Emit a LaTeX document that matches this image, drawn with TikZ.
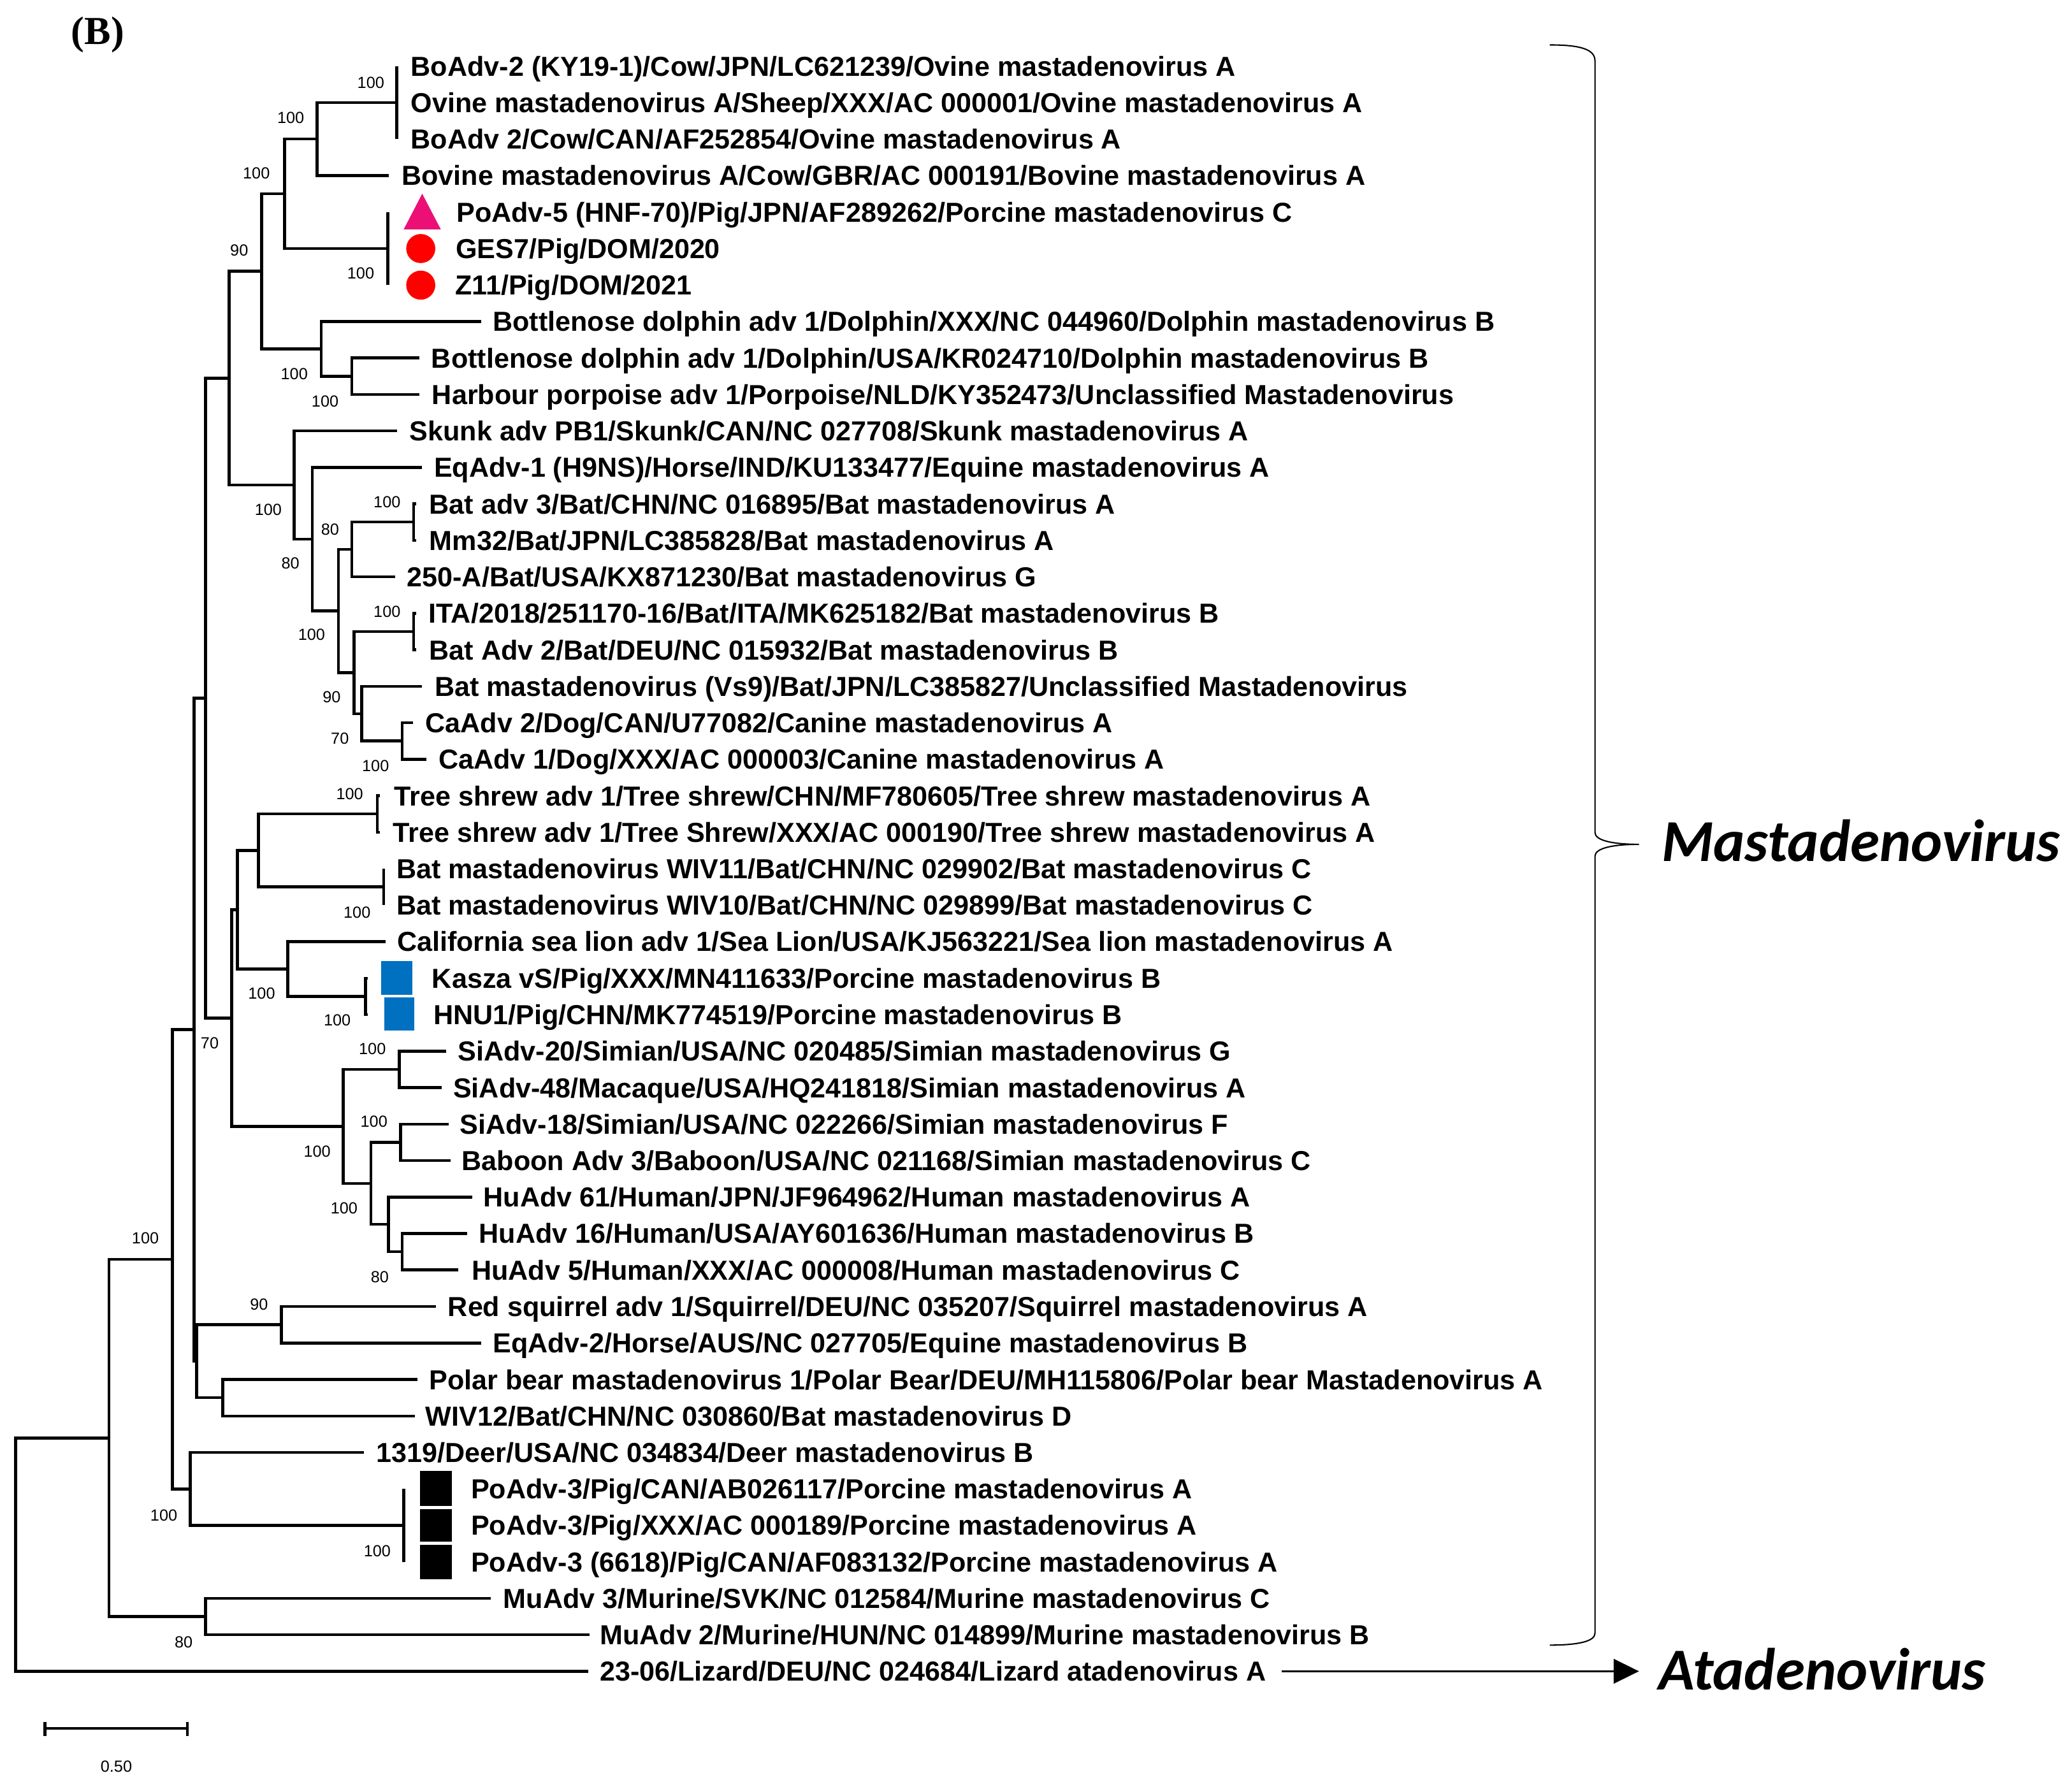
\documentclass[tikz,border=0pt]{standalone}
\usepackage{fontspec}
\setmainfont{Liberation Sans}
\newfontfamily\serifB{Liberation Serif}
\newfontfamily\calib{Carlito}
\usetikzlibrary{arrows.meta}
\definecolor{mkpink}{RGB}{236,16,118}
\definecolor{mkred}{RGB}{255,0,0}
\definecolor{mkblue}{RGB}{0,112,192}
\begin{document}
\begin{tikzpicture}[x=0.5pt,y=-0.5pt,
  br/.style={line width=1.1pt,line join=miter},
  leaf/.style={anchor=base west,inner sep=0pt,outer sep=0pt,yshift=-3.725pt,
     font=\fontsize{10.4}{12}\selectfont\bfseries},
  bs/.style={inner sep=0pt,font=\fontsize{6.1}{7}\selectfont},
  genus/.style={anchor=base west,inner sep=0pt,font=\calib\bfseries\itshape\fontsize{22.5}{26}\selectfont}]
\useasboundingbox (0,0) rectangle (1568,1347.1);

% ---------- internal nodes ----------
\coordinate (root) at (11.8,1176.5);
\coordinate (nA)   at (82.4,1088.2);
\coordinate (nB)   at (130.4,953.0);
\coordinate (nMu)  at (155.5,1223.4);
\coordinate (n147) at (146.9,779.2);
\coordinate (nDeer) at (144.0,1126.8);
\coordinate (nP3)  at (305.5,1154.4);
\coordinate (n155) at (155.5,528.3);
\coordinate (n149) at (148.9,1030.2);
\coordinate (nSq)  at (213.0,1002.5);
\coordinate (nPb)  at (168.6,1057.8);
\coordinate (n173) at (173.5,286.2);
\coordinate (n175) at (175.2,770.5);
\coordinate (n90)  at (198.0,205.3);
\coordinate (nSk)  at (222.7,367.0);
\coordinate (nBp)  at (215.3,146.6);
\coordinate (nDol) at (243.0,264.0);
\coordinate (nSd)  at (266.3,284.7);
\coordinate (nOb)  at (240.0,105.2);
\coordinate (nOv)  at (300.2,77.6);
\coordinate (nPo)  at (293.4,188.1);
\coordinate (nEq)  at (236.3,408.0);
\coordinate (n256) at (256.0,462.4);
\coordinate (n266) at (266.3,415.8);
\coordinate (nBt)  at (313.0,395.1);
\coordinate (n268) at (267.8,509.0);
\coordinate (nIta) at (313.0,478.0);
\coordinate (n274) at (273.7,540.1);
\coordinate (nCa)  at (304.4,560.8);
\coordinate (n180) at (179.7,688.5);
\coordinate (n196) at (195.6,643.6);
\coordinate (nTs)  at (285.5,616.0);
\coordinate (nWiv) at (290.4,671.2);
\coordinate (nSl)  at (217.8,733.4);
\coordinate (nKa)  at (276.5,754.1);
\coordinate (nSim) at (259.6,852.4);
\coordinate (nSa)  at (302.2,809.3);
\coordinate (n281) at (280.6,895.6);
\coordinate (nSb)  at (303.2,864.5);
\coordinate (n294) at (294.1,926.6);
\coordinate (n304) at (304.4,947.3);

% ---------- leaf tips ----------
\coordinate (t1)  at (300.2,50.0);
\coordinate (t3)  at (300.2,105.2);
\coordinate (t4)  at (294.0,132.8);
\coordinate (t5)  at (293.4,160.4);
\coordinate (t7)  at (293.4,215.7);
\coordinate (t8)  at (364.0,243.3);
\coordinate (t9)  at (317.5,270.9);
\coordinate (t10) at (317.5,298.5);
\coordinate (t11) at (300.7,326.1);
\coordinate (t12) at (319.2,353.7);
\coordinate (t13) at (315.0,381.3);
\coordinate (t14) at (315.0,408.9);
\coordinate (t15) at (299.0,436.5);
\coordinate (t16) at (315.0,464.2);
\coordinate (t17) at (315.0,491.8);
\coordinate (t18) at (319.2,519.4);
\coordinate (t19) at (312.5,547.0);
\coordinate (t20) at (322.9,574.6);
\coordinate (t21) at (287.5,602.2);
\coordinate (t22) at (287.5,629.8);
\coordinate (t23) at (290.4,657.4);
\coordinate (t24) at (290.4,685.0);
\coordinate (t25) at (291.6,712.6);
\coordinate (t26) at (278.5,740.3);
\coordinate (t27) at (278.5,767.9);
\coordinate (t28) at (337.7,795.5);
\coordinate (t29) at (334.0,823.1);
\coordinate (t30) at (339.6,850.7);
\coordinate (t31) at (340.8,878.3);
\coordinate (t32) at (357.3,905.9);
\coordinate (t33) at (353.6,933.5);
\coordinate (t34) at (347.0,961.1);
\coordinate (t35) at (329.8,988.7);
\coordinate (t36) at (364.0,1016.4);
\coordinate (t37) at (315.7,1044.0);
\coordinate (t38) at (313.8,1071.6);
\coordinate (t39) at (275.6,1099.2);
\coordinate (t40) at (305.5,1126.8);
\coordinate (t42) at (305.5,1182.0);
\coordinate (t43) at (371.6,1209.6);
\coordinate (t44) at (446.0,1237.2);
\coordinate (t45) at (445.0,1264.8);

% ---------- branches ----------
\draw[br] (nA) -| (root) |- (t45);
\draw[br] (nB) -| (nA) |- (nMu);
\draw[br] (t43) -| (nMu) |- (t44);
\draw[br] (n147) -| (nB) |- (nDeer);
\draw[br] (t39) -| (nDeer) |- (nP3);
\draw[br] (t40) -- (nP3) -- (t42);
\draw[br] (n155) -| (n147) |- (n149);
\draw[br] (nSq) -| (n149) |- (nPb);
\draw[br] (t35) -| (nSq) |- (t36);
\draw[br] (t37) -| (nPb) |- (t38);
\draw[br] (n173) -| (n155) |- (n175);
\draw[br] (n90) -| (n173) |- (nSk);
\draw[br] (nBp) -| (n90) |- (nDol);
\draw[br] (nOb) -| (nBp) |- (nPo);
\draw[br] (nOv) -| (nOb) |- (t4);
\draw[br] (t1) -- (nOv) -- (t3);
\draw[br] (t5) -- (nPo) -- (t7);
\draw[br] (t8) -| (nDol) |- (nSd);
\draw[br] (t9) -| (nSd) |- (t10);
\draw[br] (t11) -| (nSk) |- (nEq);
\draw[br] (t12) -| (nEq) |- (n256);
\draw[br] (n266) -| (n256) |- (n268);
\draw[br] (nBt) -| (n266) |- (t15);
\draw[br] (t13) -| (nBt) |- (t14);
\draw[br] (nIta) -| (n268) |- (n274);
\draw[br] (t16) -| (nIta) |- (t17);
\draw[br] (t18) -| (n274) |- (nCa);
\draw[br] (t19) -| (nCa) |- (t20);
\draw[br] (n180) -| (n175) |- (nSim);
\draw[br] (n196) -| (n180) |- (nSl);
\draw[br] (nTs) -| (n196) |- (nWiv);
\draw[br] (t21) -| (nTs) |- (t22);
\draw[br] (t23) -| (nWiv) |- (t24);
\draw[br] (t25) -| (nSl) |- (nKa);
\draw[br] (t26) -| (nKa) |- (t27);
\draw[br] (nSa) -| (nSim) |- (n281);
\draw[br] (t28) -| (nSa) |- (t29);
\draw[br] (nSb) -| (n281) |- (n294);
\draw[br] (t30) -| (nSb) |- (t31);
\draw[br] (t32) -| (n294) |- (n304);
\draw[br] (t33) -| (n304) |- (t34);

% ---------- bootstrap values ----------
\node[bs] (b1)  at (280.6,62.4)  {100};
\node[bs] (b2)  at (220.0,89.0)  {100};
\node[bs] (b3)  at (194.0,131.0) {100};
\node[bs] (b4)  at (181.0,189.5) {90};
\node[bs] (b5)  at (273.0,207.0) {100};
\node[bs] (b6)  at (222.7,283.0) {100};
\node[bs] (b7)  at (246.0,303.6) {100};
\node[bs] (b8)  at (203.0,385.6) {100};
\node[bs] (b9)  at (292.9,380.2) {100};
\node[bs] (b10) at (249.8,400.7) {80};
\node[bs] (b11) at (219.8,426.5) {80};
\node[bs] (b12) at (292.9,462.7) {100};
\node[bs] (b13) at (235.8,480.4) {100};
\node[bs] (b14) at (251.0,527.7) {90};
\node[bs] (b15) at (257.2,559.0) {70};
\node[bs] (b16) at (284.2,579.4) {100};
\node[bs] (b17) at (264.6,601.0) {100};
\node[bs] (b18) at (270.2,690.5) {100};
\node[bs] (b19) at (198.0,752.0) {100};
\node[bs] (b20) at (255.2,772.3) {100};
\node[bs] (b21) at (158.7,789.5) {70};
\node[bs] (b22) at (281.8,793.9) {100};
\node[bs] (b23) at (283.0,848.8) {100};
\node[bs] (b24) at (240.0,871.4) {100};
\node[bs] (b25) at (260.4,914.4) {100};
\node[bs] (b26) at (287.4,966.4) {80};
\node[bs] (b27) at (196.0,987.0) {90};
\node[bs] (b28) at (110.0,937.0) {100};
\node[bs] (b29) at (124.0,1146.6) {100};
\node[bs] (b30) at (285.5,1174.0) {100};
\node[bs] (b31) at (139.0,1242.6) {80};

% ---------- markers ----------
\fill[mkpink] (305.5,173.6) -- (333.6,173.6) -- (319.5,146.6) -- cycle;
\fill[mkred] (318.4,188.1) circle[radius=11];
\fill[mkred] (318.4,215.8) circle[radius=11];
\fill[mkblue] (288.5,727.5) rectangle (312.0,753.0);
\fill[mkblue] (290.8,754.8) rectangle (313.5,780.0);
\fill[black] (318.0,1113.3) rectangle (342.0,1139.5);
\fill[black] (318.0,1142.0) rectangle (342.0,1166.8);
\fill[black] (318.0,1169.0) rectangle (342.0,1195.0);

% ---------- leaf labels ----------
\node[leaf] (l1)  at (311.0,50.0)   {BoAdv-2 (KY19-1)/Cow/JPN/LC621239/Ovine mastadenovirus A};
\node[leaf] (l2)  at (311.0,77.6)   {Ovine mastadenovirus A/Sheep/XXX/AC 000001/Ovine mastadenovirus A};
\node[leaf] (l3)  at (311.0,105.2)  {BoAdv 2/Cow/CAN/AF252854/Ovine mastadenovirus A};
\node[leaf] (l4)  at (304.0,132.8)  {Bovine mastadenovirus A/Cow/GBR/AC 000191/Bovine mastadenovirus A};
\node[leaf] (l5)  at (345.5,160.4)  {PoAdv-5 (HNF-70)/Pig/JPN/AF289262/Porcine mastadenovirus C};
\node[leaf] (l6)  at (345.0,188.1)  {GES7/Pig/DOM/2020};
\node[leaf] (l7)  at (344.5,215.7)  {Z11/Pig/DOM/2021};
\node[leaf] (l8)  at (373.0,243.3)  {Bottlenose dolphin adv 1/Dolphin/XXX/NC 044960/Dolphin mastadenovirus B};
\node[leaf] (l9)  at (326.5,270.9)  {Bottlenose dolphin adv 1/Dolphin/USA/KR024710/Dolphin mastadenovirus B};
\node[leaf] (l10) at (327.0,298.5)  {Harbour porpoise adv 1/Porpoise/NLD/KY352473/Unclassified Mastadenovirus};
\node[leaf] (l11) at (310.0,326.1)  {Skunk adv PB1/Skunk/CAN/NC 027708/Skunk mastadenovirus A};
\node[leaf] (l12) at (328.5,353.7)  {EqAdv-1 (H9NS)/Horse/IND/KU133477/Equine mastadenovirus A};
\node[leaf] (l13) at (325.0,381.3)  {Bat adv 3/Bat/CHN/NC 016895/Bat mastadenovirus A};
\node[leaf] (l14) at (325.0,408.9)  {Mm32/Bat/JPN/LC385828/Bat mastadenovirus A};
\node[leaf] (l15) at (308.0,436.5)  {250-A/Bat/USA/KX871230/Bat mastadenovirus G};
\node[leaf] (l16) at (324.5,464.2)  {ITA/2018/251170-16/Bat/ITA/MK625182/Bat mastadenovirus B};
\node[leaf] (l17) at (325.0,491.8)  {Bat Adv 2/Bat/DEU/NC 015932/Bat mastadenovirus B};
\node[leaf] (l18) at (329.0,519.4)  {Bat mastadenovirus (Vs9)/Bat/JPN/LC385827/Unclassified Mastadenovirus};
\node[leaf] (l19) at (322.0,547.0)  {CaAdv 2/Dog/CAN/U77082/Canine mastadenovirus A};
\node[leaf] (l20) at (332.0,574.6)  {CaAdv 1/Dog/XXX/AC 000003/Canine mastadenovirus A};
\node[leaf] (l21) at (298.5,602.2)  {Tree shrew adv 1/Tree shrew/CHN/MF780605/Tree shrew mastadenovirus A};
\node[leaf] (l22) at (297.5,629.8)  {Tree shrew adv 1/Tree Shrew/XXX/AC 000190/Tree shrew mastadenovirus A};
\node[leaf] (l23) at (300.0,657.4)  {Bat mastadenovirus WIV11/Bat/CHN/NC 029902/Bat mastadenovirus C};
\node[leaf] (l24) at (300.0,685.0)  {Bat mastadenovirus WIV10/Bat/CHN/NC 029899/Bat mastadenovirus C};
\node[leaf] (l25) at (300.5,712.6)  {California sea lion adv 1/Sea Lion/USA/KJ563221/Sea lion mastadenovirus A};
\node[leaf] (l26) at (327.0,740.3)  {Kasza vS/Pig/XXX/MN411633/Porcine mastadenovirus B};
\node[leaf] (l27) at (328.0,767.9)  {HNU1/Pig/CHN/MK774519/Porcine mastadenovirus B};
\node[leaf] (l28) at (346.5,795.5)  {SiAdv-20/Simian/USA/NC 020485/Simian mastadenovirus G};
\node[leaf] (l29) at (343.0,823.1)  {SiAdv-48/Macaque/USA/HQ241818/Simian mastadenovirus A};
\node[leaf] (l30) at (348.0,850.7)  {SiAdv-18/Simian/USA/NC 022266/Simian mastadenovirus F};
\node[leaf] (l31) at (349.5,878.3)  {Baboon Adv 3/Baboon/USA/NC 021168/Simian mastadenovirus C};
\node[leaf] (l32) at (366.0,905.9)  {HuAdv 61/Human/JPN/JF964962/Human mastadenovirus A};
\node[leaf] (l33) at (362.5,933.5)  {HuAdv 16/Human/USA/AY601636/Human mastadenovirus B};
\node[leaf] (l34) at (357.0,961.1)  {HuAdv 5/Human/XXX/AC 000008/Human mastadenovirus C};
\node[leaf] (l35) at (339.0,988.7)  {Red squirrel adv 1/Squirrel/DEU/NC 035207/Squirrel mastadenovirus A};
\node[leaf] (l36) at (373.0,1016.4) {EqAdv-2/Horse/AUS/NC 027705/Equine mastadenovirus B};
\node[leaf] (l37) at (325.0,1044.0) {Polar bear mastadenovirus 1/Polar Bear/DEU/MH115806/Polar bear Mastadenovirus A};
\node[leaf] (l38) at (322.0,1071.6) {WIV12/Bat/CHN/NC 030860/Bat mastadenovirus D};
\node[leaf] (l39) at (285.0,1099.2) {1319/Deer/USA/NC 034834/Deer mastadenovirus B};
\node[leaf] (l40) at (356.5,1126.8) {PoAdv-3/Pig/CAN/AB026117/Porcine mastadenovirus A};
\node[leaf] (l41) at (356.5,1154.4) {PoAdv-3/Pig/XXX/AC 000189/Porcine mastadenovirus A};
\node[leaf] (l42) at (356.5,1182.0) {PoAdv-3 (6618)/Pig/CAN/AF083132/Porcine mastadenovirus A};
\node[leaf] (l43) at (381.0,1209.6) {MuAdv 3/Murine/SVK/NC 012584/Murine mastadenovirus C};
\node[leaf] (l44) at (454.0,1237.2) {MuAdv 2/Murine/HUN/NC 014899/Murine mastadenovirus B};
\node[leaf] (l45) at (454.0,1264.8) {23-06/Lizard/DEU/NC 024684/Lizard atadenovirus A};

% ---------- panel label ----------
\node[inner sep=0pt,font=\serifB\bfseries\fontsize{15}{18}\selectfont] (panel) at (74,26.5) {(B)};

% ---------- brace & genus labels ----------
\draw[line width=0.5pt] (1172.8,34) .. controls (1195,34) and (1207,37) .. (1207,46)
  -- (1207,630) .. controls (1207,636) and (1220,639) .. (1240.3,639)
  .. controls (1220,639) and (1207,642) .. (1207,648)
  -- (1207,1236) .. controls (1207,1242) and (1195,1245) .. (1172.8,1245);
\node[genus] (mast) at (1257,652) {Mastadenovirus};
\node[genus] (ata) at (1255,1279) {Atadenovirus};
\coordinate (arS) at (970,1264.8);
\coordinate (arE) at (1240.3,1264.8);
\draw[line width=0.65pt,-{Triangle[length=9.6pt,width=9.3pt]}] (arS) -- (arE);

% ---------- scale bar ----------
\coordinate (sb1) at (34,1308);
\coordinate (sb2) at (142,1308);
\draw[line width=1pt] (sb1) -- (sb2);
\draw[line width=1pt] (34,1303) -- (34,1314);
\draw[line width=1pt] (142,1303) -- (142,1314);
\node[bs] (sbl) at (88,1337) {0.50};
\end{tikzpicture}
\end{document}
